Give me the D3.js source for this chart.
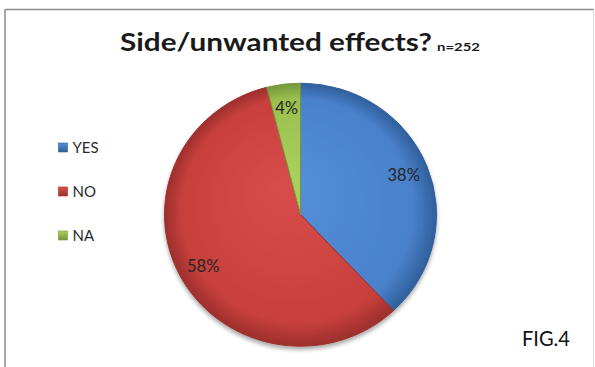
<!DOCTYPE html>
<html>
<head>
<meta charset="utf-8">
<script src="https://cdn.jsdelivr.net/npm/d3@7"></script>
<style>
  html, body { margin: 0; padding: 0; background: #fff; }
  svg { display: block; font-family: Lato, "Open Sans", "DejaVu Sans", sans-serif; }
</style>
</head>
<body>
<svg id="chart" width="595" height="367"></svg>
<script>
// Survey answers (percent of n=252 respondents)
const categories = ["YES", "NO", "NA"];
const values = [38, 58, 4];
const valueLabels = ["38%", "58%", "4%"];
const titleText = "Side/unwanted effects?";
const sampleText = "n=252";
const figText = "FIG.4";

// Base, light and dark tones for each slice
const baseColors = ["#4a81cb", "#c8403d", "#9bbf4f"];
const lightColors = ["#5590d8", "#d84c4a", "#aad25c"];
const darkColors = ["#2f5f9c", "#9d2f2c", "#76963a"];

const svg = d3.select("#chart");
const W = 595, H = 367;

// Outer frame of the chart area
svg.append("line").attr("x1", 5).attr("y1", 9.5).attr("x2", 594).attr("y2", 9.5)
  .attr("stroke", "#8a8a8a").attr("stroke-width", 1.5);
svg.append("line").attr("x1", 5).attr("y1", 9.5).attr("x2", 5).attr("y2", H)
  .attr("stroke", "#8a8a8a").attr("stroke-width", 1.5);
svg.append("line").attr("x1", 593.5).attr("y1", 9.5).attr("x2", 593.5).attr("y2", H)
  .attr("stroke", "#dcdcdc").attr("stroke-width", 1);

const defs = svg.append("defs");

// Radial shading for each slice: flat body, darker bevel at the rim
categories.forEach((c, i) => {
  const g = defs.append("radialGradient")
    .attr("id", "grad" + i)
    .attr("gradientUnits", "userSpaceOnUse")
    .attr("cx", 0).attr("cy", 0).attr("r", 136)
    .attr("fx", -20).attr("fy", -30);
  g.append("stop").attr("offset", "0%").attr("stop-color", lightColors[i]);
  g.append("stop").attr("offset", "85%").attr("stop-color", baseColors[i]);
  g.append("stop").attr("offset", "100%").attr("stop-color", darkColors[i]);
});

// Legend swatch gradients
categories.forEach((c, i) => {
  const g = defs.append("linearGradient")
    .attr("id", "lg" + i).attr("x1", 0).attr("y1", 0).attr("x2", 0).attr("y2", 1);
  g.append("stop").attr("offset", "0%").attr("stop-color", lightColors[i]);
  g.append("stop").attr("offset", "100%").attr("stop-color", darkColors[i]);
});

// Soft shadow beneath the pie
const shadow = defs.append("filter").attr("id", "shadow")
  .attr("x", "-10%").attr("y", "-10%").attr("width", "120%").attr("height", "125%");
shadow.append("feGaussianBlur").attr("in", "SourceAlpha").attr("stdDeviation", 2.2).attr("result", "blur");
shadow.append("feOffset").attr("in", "blur").attr("dx", 0).attr("dy", 3).attr("result", "off");
shadow.append("feComponentTransfer").attr("in", "off").attr("result", "shade")
  .append("feFuncA").attr("type", "linear").attr("slope", 0.35);
const merge = shadow.append("feMerge");
merge.append("feMergeNode").attr("in", "shade");
merge.append("feMergeNode").attr("in", "SourceGraphic");

// Title
svg.append("text")
  .attr("x", 120).attr("y", 51)
  .attr("font-size", 25.5).attr("font-weight", "bold").attr("fill", "#1a1a1a")
  .attr("textLength", 312).attr("lengthAdjust", "spacingAndGlyphs")
  .text(titleText);

svg.append("text")
  .attr("x", 437).attr("y", 51)
  .attr("font-size", 11).attr("font-weight", "bold").attr("fill", "#1a1a1a")
  .attr("textLength", 43).attr("lengthAdjust", "spacingAndGlyphs")
  .text(sampleText);

// Pie
const R = 136;
const cx = 300.5, cy = 214.7, yScale = 131.5 / 136;

const pie = d3.pie().sort(null).value(d => d.value).startAngle(0).endAngle(2 * Math.PI);
const data = categories.map((c, i) => ({ category: c, value: values[i], label: valueLabels[i], i }));
const arcs = pie(data);

const arc = d3.arc().innerRadius(0).outerRadius(R);
const labelArc = d3.arc().innerRadius(111).outerRadius(111);

const pieG = svg.append("g")
  .attr("transform", `translate(${cx},${cy}) scale(1,${yScale})`)
  .attr("filter", "url(#shadow)");

pieG.selectAll("path.slice")
  .data(arcs)
  .join("path")
  .attr("class", "slice")
  .attr("d", arc)
  .attr("fill", d => `url(#grad${d.data.i})`)
  .attr("stroke", d => darkColors[d.data.i])
  .attr("stroke-width", 1)
  .attr("stroke-linejoin", "round");

// Value labels
svg.append("g")
  .selectAll("text")
  .data(arcs)
  .join("text")
  .attr("x", d => cx + labelArc.centroid(d)[0])
  .attr("y", d => cy + labelArc.centroid(d)[1] * yScale)
  .attr("dy", "0.36em")
  .attr("text-anchor", "middle")
  .attr("font-size", 16.5)
  .attr("fill", "#262626")
  .text(d => d.data.label);

// Legend
const legendY = d3.scalePoint().domain(categories).range([147.5, 235.5]);
const legend = svg.append("g");
const items = legend.selectAll("g").data(data).join("g")
  .attr("transform", d => `translate(0,${legendY(d.category)})`);
items.append("rect")
  .attr("x", 58.5).attr("y", -4.5).attr("width", 9).attr("height", 9)
  .attr("fill", d => `url(#lg${d.i})`)
  .attr("stroke", d => darkColors[d.i]).attr("stroke-width", 0.6);
items.append("text")
  .attr("x", 72.5).attr("y", 0).attr("dy", "0.36em")
  .attr("font-size", 15).attr("fill", "#2b2b2b")
  .text(d => d.category);

// Figure tag
svg.append("text")
  .attr("x", 522).attr("y", 346)
  .attr("font-size", 21).attr("fill", "#111")
  .attr("textLength", 48).attr("lengthAdjust", "spacingAndGlyphs")
  .text(figText);
</script>
</body>
</html>
